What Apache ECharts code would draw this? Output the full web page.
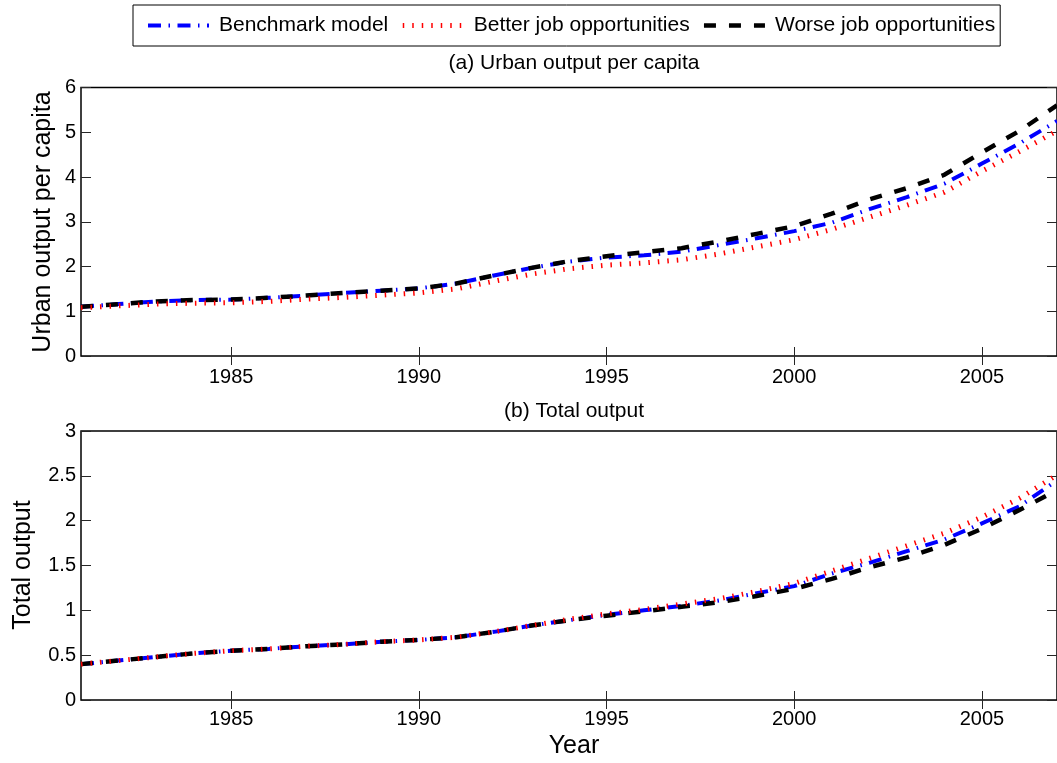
<!DOCTYPE html>
<html>
<head>
<meta charset="utf-8">
<script src="https://cdn.jsdelivr.net/npm/echarts@6/dist/echarts.min.js"></script>
<style>
  html, body { margin: 0; padding: 0; background: #fff; }
  #chart { width: 1057px; height: 763px; }
</style>
</head>
<body>
<div id="chart"></div>
<script>
// Simulated paths, 1981-2007
const years = [1981, 1982, 1983, 1984, 1985, 1986, 1987, 1988, 1989, 1990,
               1991, 1992, 1993, 1994, 1995, 1996, 1997, 1998, 1999, 2000,
               2001, 2002, 2003, 2004, 2005, 2006, 2007];

// (a) Urban output per capita
const urbanBenchmark = [1.10, 1.16, 1.22, 1.25, 1.26, 1.30, 1.35, 1.41, 1.46, 1.51,
                        1.62, 1.80, 1.97, 2.11, 2.20, 2.25, 2.33, 2.48, 2.63, 2.79,
                        2.98, 3.28, 3.55, 3.85, 4.30, 4.75, 5.25];
const urbanBetter    = [1.08, 1.12, 1.16, 1.18, 1.19, 1.22, 1.27, 1.31, 1.36, 1.41,
                        1.50, 1.67, 1.83, 1.95, 2.03, 2.08, 2.15, 2.28, 2.44, 2.60,
                        2.83, 3.10, 3.37, 3.66, 4.13, 4.57, 5.03];
const urbanWorse     = [1.10, 1.16, 1.22, 1.25, 1.26, 1.30, 1.35, 1.41, 1.46, 1.51,
                        1.62, 1.80, 1.97, 2.12, 2.23, 2.32, 2.41, 2.56, 2.73, 2.90,
                        3.18, 3.50, 3.75, 4.05, 4.55, 5.03, 5.60];

// (b) Total output
const totalBenchmark = [0.40, 0.44, 0.48, 0.52, 0.55, 0.57, 0.60, 0.62, 0.65, 0.67,
                        0.70, 0.76, 0.83, 0.89, 0.95, 1.00, 1.05, 1.11, 1.19, 1.27,
                        1.41, 1.53, 1.66, 1.79, 1.97, 2.16, 2.45];
const totalBetter    = [0.40, 0.44, 0.48, 0.52, 0.55, 0.57, 0.60, 0.62, 0.65, 0.67,
                        0.70, 0.76, 0.83, 0.90, 0.96, 1.01, 1.07, 1.13, 1.21, 1.30,
                        1.44, 1.58, 1.72, 1.86, 2.04, 2.25, 2.51];
const totalWorse     = [0.40, 0.44, 0.48, 0.52, 0.55, 0.57, 0.60, 0.62, 0.65, 0.67,
                        0.70, 0.76, 0.83, 0.89, 0.94, 0.99, 1.04, 1.09, 1.16, 1.24,
                        1.35, 1.48, 1.59, 1.73, 1.91, 2.12, 2.34];

const yearTicks = [1985, 1990, 1995, 2000, 2005];
const seriesNames = ['Benchmark model', 'Better job opportunities', 'Worse job opportunities'];
const panelTitles = ['(a) Urban output per capita', '(b) Total output'];
const axisTitles = ['Urban output per capita', 'Total output', 'Year'];

const FONT = '"Liberation Sans", Arial, Helvetica, sans-serif';
const TICK_COLOR = '#262626';

const styles = {
  'Benchmark model':          { color: '#0000ff', width: 4,   type: [13, 7.5, 1.5, 7.5], z: 2 },
  'Better job opportunities': { color: '#ff0000', width: 5,   type: [1.5, 8],            z: 4 },
  'Worse job opportunities':  { color: '#000000', width: 4.5, type: [12, 13],            z: 3 }
};

const pair = (vals) => years.map((y, i) => [y, vals[i]]);

function lineSeries(name, vals, gridIdx) {
  const s = styles[name];
  return {
    name: name,
    type: 'line',
    xAxisIndex: gridIdx * 2,
    yAxisIndex: gridIdx * 2,
    data: pair(vals),
    symbol: 'none',
    z: s.z,
    animation: false,
    clip: true,
    lineStyle: { color: s.color, width: s.width, type: s.type, cap: 'butt', join: 'miter' },
    itemStyle: { color: s.color }
  };
}

function xAxes(gridIdx, labelMargin) {
  const tick = { show: true, inside: true, length: 9, customValues: yearTicks,
                 lineStyle: { color: TICK_COLOR, width: 1 } };
  return [
    {
      gridIndex: gridIdx, type: 'value', position: 'bottom',
      min: 1981, max: 2007,
      axisLine: { show: false },
      splitLine: { show: false },
      axisTick: tick,
      axisLabel: { show: true, customValues: yearTicks, margin: labelMargin,
                   color: '#000', fontSize: 20, fontFamily: FONT,
                   formatter: (v) => String(v) }
    },
    {
      gridIndex: gridIdx, type: 'value', position: 'top',
      min: 1981, max: 2007,
      axisLine: { show: false },
      splitLine: { show: false },
      axisTick: tick,
      axisLabel: { show: false }
    }
  ];
}

function yAxes(gridIdx, max, interval) {
  const tick = { show: true, inside: true, length: 10, lineStyle: { color: TICK_COLOR, width: 1 } };
  return [
    {
      gridIndex: gridIdx, type: 'value', position: 'left',
      min: 0, max: max, interval: interval,
      axisLine: { show: false },
      splitLine: { show: false },
      axisTick: tick,
      axisLabel: { show: true, margin: 5, color: '#000', fontSize: 20, fontFamily: FONT }
    },
    {
      gridIndex: gridIdx, type: 'value', position: 'right',
      min: 0, max: max, interval: interval,
      axisLine: { show: false },
      splitLine: { show: false },
      axisTick: tick,
      axisLabel: { show: false }
    }
  ];
}

const PLOT_LEFT = 81;
const PLOT_WIDTH = 986;
const PLOT_CENTER = PLOT_LEFT + PLOT_WIDTH / 2;

const option = {
  backgroundColor: '#ffffff',
  animation: false,
  textStyle: { fontFamily: FONT },
  grid: [
    { left: PLOT_LEFT, top: 87.5, width: PLOT_WIDTH, height: 268.5,
      show: true, borderColor: '#000', borderWidth: 1.5, backgroundColor: 'transparent' },
    { left: PLOT_LEFT, top: 431, width: PLOT_WIDTH, height: 269,
      show: true, borderColor: '#000', borderWidth: 1.5, backgroundColor: 'transparent' }
  ],
  xAxis: [...xAxes(0, 11), ...xAxes(1, 9)],
  yAxis: [...yAxes(0, 6, 1), ...yAxes(1, 3, 0.5)],
  legend: {
    data: seriesNames,
    left: 133, top: 5,
    orient: 'horizontal',
    padding: [10, 5, 10, 13],
    itemGap: 12,
    itemWidth: 61,
    itemHeight: 21,
    borderColor: '#000',
    borderWidth: 1,
    backgroundColor: '#fff',
    selectedMode: false,
    textStyle: { fontSize: 21, fontFamily: FONT, color: '#000', padding: [0, 0, 0, 5] },
    itemStyle: { opacity: 0 },
    lineStyle: { width: 'inherit', type: 'inherit', color: 'inherit' }
  },
  graphic: [
    { type: 'text', x: PLOT_CENTER, y: 63, z: 10,
      style: { text: panelTitles[0], fontSize: 21, fontFamily: FONT, fill: '#000',
               align: 'center', verticalAlign: 'middle' } },
    { type: 'text', x: PLOT_CENTER, y: 411, z: 10,
      style: { text: panelTitles[1], fontSize: 21, fontFamily: FONT, fill: '#000',
               align: 'center', verticalAlign: 'middle' } },
    { type: 'text', x: 43, y: 222, rotation: Math.PI / 2, z: 10,
      style: { text: axisTitles[0], fontSize: 25, fontFamily: FONT, fill: '#000',
               align: 'center', verticalAlign: 'middle' } },
    { type: 'text', x: 23, y: 565, rotation: Math.PI / 2, z: 10,
      style: { text: axisTitles[1], fontSize: 25, fontFamily: FONT, fill: '#000',
               align: 'center', verticalAlign: 'middle' } },
    { type: 'text', x: PLOT_CENTER, y: 746, z: 10,
      style: { text: axisTitles[2], fontSize: 25, fontFamily: FONT, fill: '#000',
               align: 'center', verticalAlign: 'middle' } }
  ],
  series: [
    lineSeries('Benchmark model', urbanBenchmark, 0),
    lineSeries('Worse job opportunities', urbanWorse, 0),
    lineSeries('Better job opportunities', urbanBetter, 0),
    lineSeries('Benchmark model', totalBenchmark, 1),
    lineSeries('Worse job opportunities', totalWorse, 1),
    lineSeries('Better job opportunities', totalBetter, 1)
  ]
};

const chart = echarts.init(document.getElementById('chart'), null, { renderer: 'canvas' });
chart.setOption(option);
</script>
</body>
</html>
